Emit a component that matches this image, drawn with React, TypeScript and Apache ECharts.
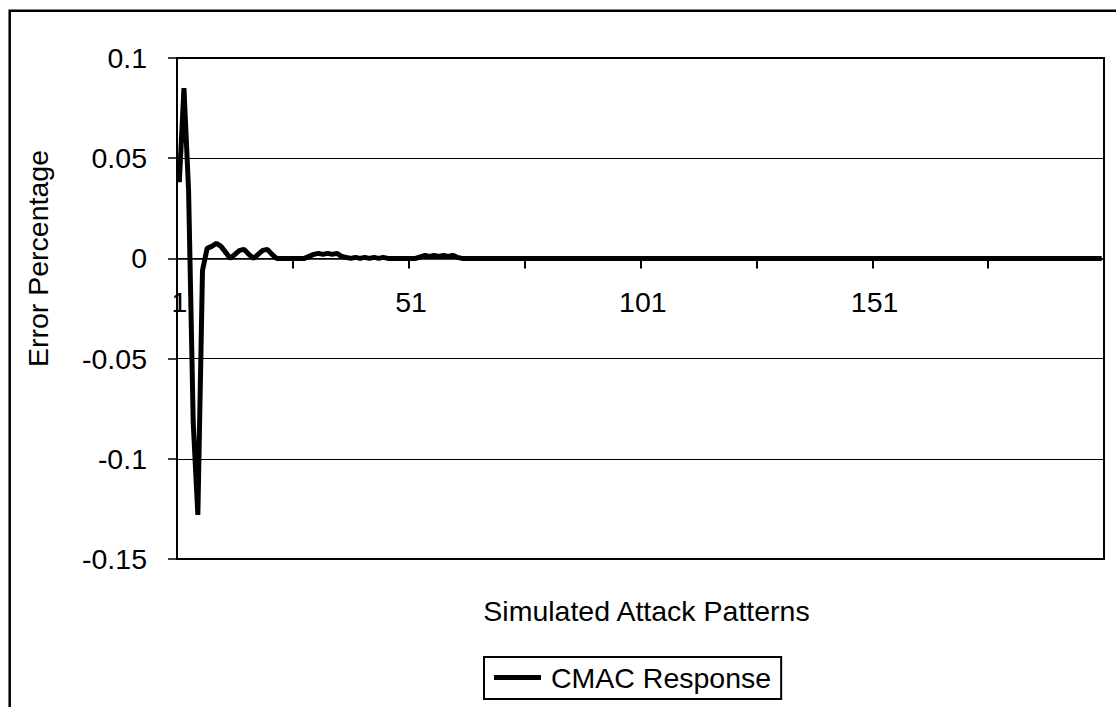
import React, { useEffect, useRef } from "react";
import * as echarts from "echarts";

const categories: string[] = Array.from({ length: 200 }, (_, i) => String(i + 1));

const cmacResponse: number[] = [
  0.038, 0.085, 0.034, -0.082, -0.128, -0.006, 0.005, 0.006, 0.0075, 0.006,
  0.003, 0, 0.002, 0.004, 0.0045, 0.002, 0, 0.002, 0.004, 0.0045,
  0.002, 0, 0, 0, 0, 0, 0, 0, 0.001, 0.002,
  0.0025, 0.002, 0.0025, 0.002, 0.0025, 0.001, 0.0005, 0, 0.0005, 0,
  0.0005, 0, 0.0005, 0, 0.0005, 0, 0, 0, 0, 0,
  0, 0, 0.0008, 0.0015, 0.001, 0.0015, 0.001, 0.0015, 0.001, 0.0015,
  0.0005, 0, 0, 0, 0, 0, 0, 0, 0, 0,
  0, 0, 0, 0, 0, 0, 0, 0, 0, 0,
  0, 0, 0, 0, 0, 0, 0, 0, 0, 0,
  0, 0, 0, 0, 0, 0, 0, 0, 0, 0,
  0, 0, 0, 0, 0, 0, 0, 0, 0, 0,
  0, 0, 0, 0, 0, 0, 0, 0, 0, 0,
  0, 0, 0, 0, 0, 0, 0, 0, 0, 0,
  0, 0, 0, 0, 0, 0, 0, 0, 0, 0,
  0, 0, 0, 0, 0, 0, 0, 0, 0, 0,
  0, 0, 0, 0, 0, 0, 0, 0, 0, 0,
  0, 0, 0, 0, 0, 0, 0, 0, 0, 0,
  0, 0, 0, 0, 0, 0, 0, 0, 0, 0,
  0, 0, 0, 0, 0, 0, 0, 0, 0, 0,
  0, 0, 0, 0, 0, 0, 0, 0, 0, 0,
];

const seriesName = "CMAC Response";
const xTitle = "Simulated Attack Patterns";
const yTitle = "Error Percentage";

const FONT = "'Liberation Sans', Arial, sans-serif";
const FS = 28.5;

export default function App() {
  const ref = useRef<HTMLDivElement>(null);
  useEffect(() => {
    if (!ref.current) return;
    const chart = echarts.init(ref.current, undefined, { renderer: "svg" });
    chart.setOption({
      animation: false,
      backgroundColor: "#ffffff",
      textStyle: { fontFamily: FONT, color: "#000" },
      grid: {
        left: 177,
        top: 58,
        width: 927,
        height: 501,
        show: true,
        borderColor: "#000",
        borderWidth: 2,
        backgroundColor: "transparent",
        containLabel: false,
        outerBoundsMode: "none",
      },
      xAxis: {
        type: "category",
        data: categories,
        boundaryGap: true,
        position: "bottom",
        offset: -300.6,
        z: 5,
        axisLine: { show: true, onZero: false, lineStyle: { color: "#000", width: 1.5 } },
        axisTick: {
          show: true,
          interval: 24,
          inside: false,
          length: 10,
          lineStyle: { color: "#000", width: 2 },
        },
        axisLabel: { interval: 49, margin: 29, fontSize: FS, color: "#000", fontFamily: FONT },
        splitLine: { show: false },
        name: xTitle,
        nameLocation: "middle",
        nameGap: 338,
        nameTextStyle: { fontSize: FS, color: "#000", fontFamily: FONT, padding: [0, 0, 0, 12] },
      },
      yAxis: {
        type: "value",
        min: -0.15,
        max: 0.1,
        interval: 0.05,
        axisLine: { show: true, lineStyle: { color: "#000", width: 2 } },
        axisTick: { show: true, length: 9, lineStyle: { color: "#000", width: 1.5 } },
        axisLabel: { margin: 30, fontSize: FS, color: "#000", fontFamily: FONT },
        splitLine: { show: true, lineStyle: { color: "#000", width: 1 } },
        name: yTitle,
        nameLocation: "middle",
        nameGap: 125,
        nameTextStyle: { fontSize: FS, color: "#000", fontFamily: FONT, padding: [0, 0, 0, 100] },
      },
      legend: {
        left: 484,
        top: 657,
        icon: "rect",
        itemWidth: 47,
        itemHeight: 5,
        borderColor: "#000",
        borderWidth: 2,
        borderRadius: 0,
        padding: [6, 10, 7, 10],
        textStyle: { fontSize: FS, color: "#000", fontFamily: FONT, padding: [0, 0, 0, 5] },
        data: [seriesName],
      },
      graphic: [
        {
          type: "rect",
          silent: true,
          shape: { x: 9.7, y: 10.7, width: 1400, height: 1200 },
          style: { fill: "none", stroke: "#000", lineWidth: 2.5 },
        },
      ],
      series: [
        {
          type: "line",
          name: seriesName,
          data: cmacResponse,
          symbol: "none",
          lineStyle: { color: "#000", width: 5 },
          itemStyle: { color: "#000" },
          z: 3,
        },
      ],
    });
    return () => chart.dispose();
  }, []);
  return (
    <div
      ref={ref}
      style={{ position: "fixed", left: 0, top: 0, width: 1116, height: 707 }}
    />
  );
}
